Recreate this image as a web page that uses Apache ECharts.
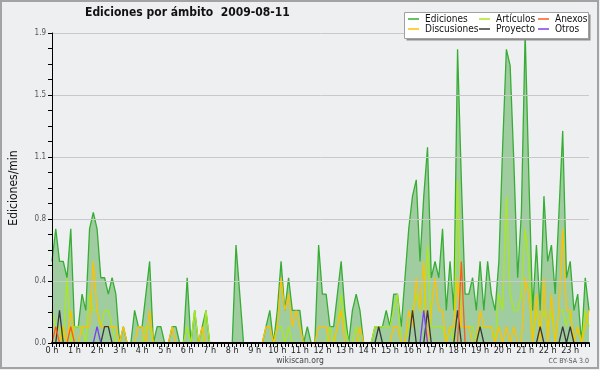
<!DOCTYPE html>
<html>
<head>
<meta charset="utf-8">
<script src="https://cdn.jsdelivr.net/npm/echarts@6/dist/echarts.min.js"></script>
<style>
html,body{margin:0;padding:0;background:#eeeff0;}
#c{width:600px;height:370px;}
</style>
</head>
<body>
<div id="c"></div>
<script>
// ---- data (edits per minute, 10-minute buckets, 2009-08-11) ----
var hourLabels = ['0 h','1 h','2 h','3 h','4 h','5 h','6 h','7 h','8 h','9 h','10 h','11 h',
                  '12 h','13 h','14 h','15 h','16 h','17 h','18 h','19 h','20 h','21 h','22 h','23 h'];
var yTicks = [0, 0.38, 0.76, 1.14, 1.52, 1.9];

var ediciones = [
 0.5,0.7,0.5,0.5,0.4,0.7,0.1,0.1,0.3,0.2,0.7,0.8,
 0.7,0.4,0.4,0.3,0.4,0.3,0,0.1,0,0,0.2,0.1,
 0.1,0.3,0.5,0,0.1,0.1,0,0,0.1,0.1,0,0,
 0.4,0,0.2,0,0.1,0.2,0,0,0,0,0,0,
 0,0.6,0.3,0,0,0,0,0,0,0.1,0.2,0,
 0.2,0.5,0.2,0.4,0.2,0.2,0.2,0,0.1,0,0,0.6,
 0.3,0.3,0.1,0.1,0.3,0.5,0.2,0,0.2,0.3,0.2,0,
 0,0,0.1,0.1,0.1,0.2,0.1,0.3,0.3,0.1,0.4,0.7,
 0.9,1.0,0.5,0.9,1.2,0.4,0.5,0.4,0.7,0.2,0.5,0.2,
 1.8,1.0,0.3,0.3,0.4,0.2,0.5,0.2,0.5,0.3,0.2,0.5,
 1.2,1.8,1.7,1.1,0.4,0.8,1.9,1.0,0.2,0.6,0.2,0.9,
 0.5,0.6,0.3,0.8,1.3,0.4,0.5,0.2,0.3,0,0.4,0.2
];
var articulos = [
 0.2,0.1,0.1,0,0.4,0,0.1,0.1,0.1,0,0.3,0.2,
 0.2,0.1,0.2,0.2,0.1,0,0,0,0,0,0,0,
 0,0.1,0.1,0,0,0,0,0,0,0,0,0,
 0.1,0,0.2,0,0,0.2,0,0,0,0,0,0,
 0,0,0,0,0,0,0,0,0,0,0,0,
 0.1,0.1,0,0.1,0,0,0,0,0,0,0,0,
 0,0,0.1,0,0.1,0.3,0.1,0,0,0.1,0,0,
 0,0,0.1,0.1,0.1,0.1,0.1,0.2,0.3,0,0,0.1,
 0.2,0.3,0.2,0.2,0.6,0.1,0.1,0.1,0.1,0,0.1,0,
 1.0,0.1,0.1,0.1,0.1,0,0.1,0.1,0.1,0.1,0,0.3,
 0.2,0.9,0.3,0.2,0.2,0.3,0.7,0.5,0,0.2,0.1,0.2,
 0.1,0.2,0,0.2,0.2,0.1,0.2,0,0.1,0,0.2,0.1
];
var discusiones = [
 0,0.1,0,0.1,0,0.2,0,0,0.1,0.1,0.1,0.5,
 0.2,0.1,0.1,0.1,0.1,0.1,0,0.1,0,0,0,0.1,
 0.1,0,0.2,0,0,0,0,0,0.1,0,0,0,
 0,0,0,0,0.1,0,0,0,0,0,0,0,
 0,0,0,0,0,0,0,0,0,0.1,0.1,0,
 0.1,0.4,0.2,0.3,0.1,0.2,0.1,0,0,0,0,0.1,
 0.1,0.1,0,0,0.1,0.2,0,0,0,0,0.1,0,
 0,0,0,0,0,0,0,0.1,0.1,0,0,0.2,
 0.1,0.4,0.2,0.5,0,0.2,0.4,0.2,0.2,0,0.1,0.1,
 0.4,0.1,0.1,0.1,0,0,0.2,0.1,0.1,0.1,0,0.1,
 0,0.1,0,0.1,0,0,0.4,0.3,0,0.3,0,0.4,
 0,0.3,0,0.2,0.7,0.2,0.2,0,0.1,0,0.1,0.2
];
var anexos = [
 0,0.1,0,0,0,0.1,0,0,0,0,0,0,
 0,0,0,0,0,0,0,0,0,0,0,0,
 0,0,0,0,0,0,0,0,0,0,0,0,
 0,0,0,0,0,0,0,0,0,0,0,0,
 0,0,0,0,0,0,0,0,0,0,0,0,
 0,0,0,0,0,0,0,0,0,0,0,0,
 0,0,0,0,0,0,0,0,0,0,0,0,
 0,0,0,0,0,0,0,0,0,0,0,0,
 0,0,0,0,0,0,0,0,0,0,0,0,
 0,0.5,0,0,0,0,0,0,0,0,0,0,
 0,0,0,0,0,0,0,0,0,0,0,0,
 0,0,0,0,0,0,0,0,0,0,0,0
];
var proyecto = [
 0,0,0.2,0,0,0,0,0,0,0,0,0,
 0,0,0.1,0.1,0,0,0,0,0,0,0,0,
 0,0,0,0,0,0,0,0,0,0,0,0,
 0,0,0,0,0,0,0,0,0,0,0,0,
 0,0,0,0,0,0,0,0,0,0,0,0,
 0,0,0,0,0,0,0,0,0,0,0,0,
 0,0,0,0,0,0,0,0,0,0,0,0,
 0,0,0,0.1,0,0,0,0,0,0,0,0,
 0.2,0,0,0,0.2,0,0,0,0,0,0,0,
 0.2,0,0,0,0,0,0.1,0,0,0,0,0,
 0,0,0,0,0,0,0,0,0,0,0.1,0,
 0,0,0,0,0.1,0,0.1,0,0,0,0,0
];
var otros = [
 0,0,0,0,0,0,0,0,0,0,0,0,
 0.1,0,0,0,0,0,0,0,0,0,0,0,
 0,0,0,0,0,0,0,0,0,0,0,0,
 0,0,0,0,0,0,0,0,0,0,0,0,
 0,0,0,0,0,0,0,0,0,0,0,0,
 0,0,0,0,0,0,0,0,0,0,0,0,
 0,0,0,0,0,0,0,0,0,0,0,0,
 0,0,0,0,0,0,0,0,0,0,0,0,
 0,0,0,0.2,0,0,0,0,0,0,0,0,
 0,0,0,0,0,0,0,0,0,0,0,0,
 0,0,0,0,0,0,0,0,0,0,0,0,
 0,0,0,0,0,0,0,0,0,0,0,0
];

// ---- chart ----
var FONT = "'DejaVu Sans Condensed', 'DejaVu Sans', sans-serif";
var slots = [];
for (var h = 0; h < 24; h++) for (var m = 0; m < 60; m += 10) slots.push(h + ':' + (m < 10 ? '0' + m : m));

var colors = {
  ed: '#36ad34', edFill: '#a0cd9f', art: '#a9e81e', dis: '#ffc000',
  anx: '#ff5a1c', pro: '#383838', otr: '#7b3ff0'
};

function lineSeries(name, data, color, extra) {
  var s = {
    name: name, type: 'line', data: data, symbol: 'none', smooth: false,
    lineStyle: { color: color, width: 1.3 }, itemStyle: { color: color },
    animation: false
  };
  for (var k in extra) s[k] = extra[k];
  return s;
}

var chart = echarts.init(document.getElementById('c'), null, { renderer: 'canvas' });
var legendBase = {
  orient: 'vertical', icon: 'rect', itemWidth: 11, itemHeight: 1.5, itemGap: 0,
  padding: 0, top: 14, z: 20, selectedMode: false,
  textStyle: { fontFamily: FONT, fontSize: 10, color: '#111', lineHeight: 10, padding: [0, 0, 0, 1] }
};
function mkLegend(left, names) {
  var l = {};
  for (var k in legendBase) l[k] = legendBase[k];
  l.left = left; l.data = names;
  return l;
}

chart.setOption({
  backgroundColor: '#eeeff0',
  animation: false,
  textStyle: { fontFamily: FONT },
  title: {
    text: 'Ediciones por ámbito  2009-08-11', left: 85, top: 7, padding: 0,
    textStyle: { fontFamily: FONT, fontSize: 12, fontWeight: 'bold', color: '#111' }
  },
  legend: [
    mkLegend(408, ['Ediciones', 'Discusiones']),
    mkLegend(479, ['Artículos', 'Proyecto']),
    mkLegend(538, ['Anexos', 'Otros'])
  ],
  grid: { left: 46, right: 11, top: 33, bottom: 27, containLabel: false },
  xAxis: {
    type: 'category', data: slots, boundaryGap: false, z: 10,
    axisLine: { show: true, lineStyle: { color: '#000', width: 2 } },
    axisTick: { show: true, interval: 0, length: 4, lineStyle: { color: '#000' } },
    axisLabel: {
      interval: function (i) { return i % 6 === 0; },
      formatter: function (v, i) { return hourLabels[Math.floor(i / 6)]; },
      fontFamily: FONT, fontSize: 9, color: '#222', margin: 3
    },
    splitLine: { show: false }
  },
  yAxis: {
    type: 'value', min: 0, max: 1.9, interval: 0.38, z: 10,
    name: 'Ediciones/min', nameLocation: 'middle', nameGap: 32,
    nameTextStyle: { fontFamily: FONT, fontSize: 12, color: '#111' },
    axisLine: { show: true, lineStyle: { color: '#000', width: 1 } },
    axisTick: { show: true, length: 4, lineStyle: { color: '#000' } },
    minorTick: { show: true, splitNumber: 4, length: 4, lineStyle: { color: '#000' } },
    axisLabel: {
      formatter: function (v) { return v.toFixed(1); },
      fontFamily: FONT, fontSize: 8, color: '#555', margin: 6
    },
    splitLine: { show: true, lineStyle: { color: '#c9c9c9', width: 1 } }
  },
  series: [
    lineSeries('Ediciones', ediciones, colors.ed, { areaStyle: { color: colors.edFill, opacity: 1 }, z: 1 }),
    lineSeries('Artículos', articulos, colors.art, { z: 3 }),
    lineSeries('Discusiones', discusiones, colors.dis, { z: 4 }),
    lineSeries('Proyecto', proyecto, colors.pro, { z: 5 }),
    lineSeries('Anexos', anexos, colors.anx, { z: 6 }),
    lineSeries('Otros', otros, colors.otr, { z: 7 })
  ],
  graphic: [
    { type: 'rect', z: 30, silent: true, shape: { x: 1, y: 1, width: 597, height: 367 },
      style: { fill: 'none', stroke: '#a3a3a3', lineWidth: 2 } },
    { type: 'rect', z: 10, silent: true, shape: { x: 406.5, y: 14.5, width: 184, height: 26 },
      style: { fill: '#8d8d8d' } },
    { type: 'rect', z: 11, silent: true, shape: { x: 404.5, y: 12.5, width: 184, height: 26 },
      style: { fill: '#ffffff', stroke: '#a0a0a0', lineWidth: 1 } },
    { type: 'text', z: 12, silent: true, left: 'center', top: 356,
      style: { text: 'wikiscan.org', font: "8.5px 'DejaVu Sans Condensed', 'DejaVu Sans', sans-serif", fill: '#444' } },
    { type: 'text', z: 12, silent: true, right: 11, top: 358,
      style: { text: 'CC BY-SA 3.0', font: "7px 'DejaVu Sans Condensed', 'DejaVu Sans', sans-serif", fill: '#555' } }
  ]
});
</script>
</body>
</html>
